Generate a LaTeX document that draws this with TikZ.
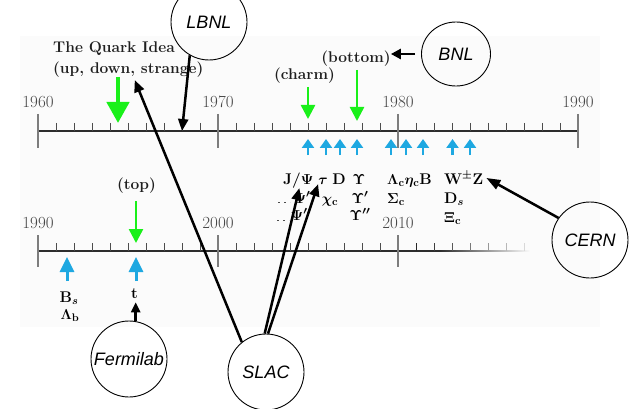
\documentclass[tikz,border=0pt]{standalone}
\usepackage{fontspec}
\usetikzlibrary{arrows.meta,shapes.geometric}
\newfontfamily\labsans{Liberation Sans}
\definecolor{quarkgreen}{RGB}{25,240,25}
\definecolor{findblue}{RGB}{30,168,225}
\definecolor{panelgray}{RGB}{251,251,251}
\definecolor{majorgray}{RGB}{125,125,125}
\definecolor{yeargray}{RGB}{70,70,70}
\definecolor{axisdark}{RGB}{45,45,45}

\begin{document}
\begin{tikzpicture}[x=1pt,y=-1pt,
  lab/.style={draw, circle, line width=0.9pt, inner sep=0pt, minimum size=76pt,
    font=\labsans\itshape\fontsize{18}{20}\selectfont},
  year/.style={anchor=base, text=yeargray, inner sep=0pt, font=\fontsize{17}{19}\selectfont},
  part/.style={anchor=base, inner sep=0pt, text=black,
    font=\fontsize{15.5}{17}\selectfont\bfseries\boldmath},
  flavour/.style={anchor=base, inner sep=0pt, text=black!88,
    font=\fontsize{15.5}{17}\selectfont\bfseries},
  axisline/.style={axisdark, line width=1.2pt},
  minortick/.style={black!70, line width=0.9pt},
  majortick/.style={majorgray, line width=2pt},
  greenbig/.style={quarkgreen, line width=4.5pt, -{Triangle[width=22pt,length=21pt]}},
  greenarr/.style={quarkgreen, line width=2.5pt, -{Triangle[width=14pt,length=14pt]}},
  bluesmall/.style={findblue, line width=2.5pt, -{Triangle[width=12pt,length=9pt]}},
  bluebig/.style={findblue, line width=3pt, -{Triangle[width=14pt,length=15pt]}},
  pointer/.style={black, line width=2.5pt, -{Triangle[width=10pt,length=12pt]}},
  leader/.style={black!70, line width=0.8pt, dash pattern=on 2pt off 4pt}
]
\useasboundingbox (0,0) rectangle (629,409);
\fill[panelgray] (20,36) rectangle (600,327);

% ---- upper time line, 1960 to 1990 ----
\draw[axisline] (38,131) -- (578,131);
\foreach \d in {0,180,360}
  \foreach \k in {1,...,9}
    \draw[minortick] ({38+\d+18*\k},123) -- ({38+\d+18*\k},131);
\foreach \x in {38,218,398,578}
  \draw[majortick] (\x,114) -- (\x,148);
\node[year] (y1960) at (38,108) {1960};
\node[year] (y1970) at (218,108) {1970};
\node[year] (y1980) at (398,108) {1980};
\node[year] (y1990a) at (578,108) {1990};

% ---- lower time line, 1990 onwards, fading out ----
\draw[axisline] (38,251) -- (440,251);
\shade[left color=axisdark, right color=panelgray] (440,250.4) rectangle (530,251.6);
\foreach \d in {0,180}
  \foreach \k in {1,...,9}
    \draw[minortick] ({38+\d+18*\k},243) -- ({38+\d+18*\k},251);
\foreach \k/\o in {1/85,2/75,3/65,4/52,5/40,6/27,7/14}
  \draw[minortick, draw=black!\o!panelgray] ({398+18*\k},243) -- ({398+18*\k},251);
\foreach \x in {38,218,398}
  \draw[majortick] (\x,235) -- (\x,267);
\node[year] (y1990b) at (38,228) {1990};
\node[year] (y2000) at (218,228) {2000};
\node[year] (y2010) at (398,228) {2010};

% ---- points on the time lines ----
\foreach \n/\x in {q/118, c/308, b/357, a1/326, a2/340, a3/391, a4/406, a5/423, a6/452.5, a7/470, lb/182}
  \coordinate (up\n) at (\x,131);
\foreach \n/\x in {top/136, bs/67}
  \coordinate (lo\n) at (\x,251);

% ---- quark discoveries ----
\node[flavour, anchor=north west, align=left, font=\fontsize{15.5}{21}\selectfont\bfseries]
  (quarkidea) at (53,41) {The Quark Idea\\(up, down, strange)};
\node[flavour] (charm) at (304.5,80) {(charm)};
\node[flavour] (bottom) at (356,63) {(bottom)};
\node[flavour] (top) at (136.5,189) {(top)};

\draw[greenbig] ([yshift=54pt]upq) -- ([yshift=8pt]upq);
\draw[greenarr] ([yshift=44pt]upc) -- ([yshift=12pt]upc);
\draw[greenarr] ([yshift=61pt]upb) -- ([yshift=10pt]upb);
\draw[greenarr] ([yshift=50pt]lotop) -- ([yshift=8pt]lotop);

% ---- particle discoveries ----
\foreach \c in {upc,upa1,upa2,upb,upa3,upa4,upa5,upa6,upa7}
  \draw[bluesmall] ([yshift=-24pt]\c) -- ([yshift=-8pt]\c);
\foreach \c in {lotop,lobs}
  \draw[bluebig] ([yshift=-30pt]\c) -- ([yshift=-6pt]\c);

\node[part, anchor=base west] (jpsi) at (283,184) {J/$\Psi$};
\node[part] (tau) at (323,184) {$\tau$};
\node[part] (dmes) at (339,184) {D};
\node[part] (ups) at (359,184) {$\Upsilon$};
\node[part, anchor=base west] (lambdac) at (387,184) {$\Lambda_{\mathbf{c}}\eta_{\mathbf{c}}$B};
\node[part, anchor=base west] (wz) at (444,184) {W$^{\pm}$Z};

\node[part] (psip) at (302,203) {$\Psi'$};
\node[part] (chic) at (330,203) {$\chi_{\mathbf{c}}$};
\node[part] (upsp) at (360,203) {$\Upsilon'$};
\node[part, anchor=base west] (sigmac) at (387,203) {$\Sigma_{\mathbf{c}}$};
\node[part, anchor=base west] (ds) at (444,203) {D$_{s}$};

\node[part] (psipp) at (301,220) {$\Psi''$};
\node[part] (upspp) at (360,220) {$\Upsilon''$};
\node[part, anchor=base west] (xic) at (444,222) {$\Xi_{\mathbf{c}}$};

\draw[leader] (278,202) -- (290,202);
\draw[leader] (277,220) -- (289,220);

\node[part] (bs) at (69,302) {B$_{s}$};
\node[part] (lambdab) at (70,319) {$\Lambda_{\mathbf{b}}$};
\node[part] (tq) at (134.5,298) {t};

% ---- laboratories ----
\node[lab] (lbnl) at (209,22) {LBNL};
\node[lab, ellipse, minimum width=69pt, minimum height=64pt] (bnl) at (456,54) {BNL};
\node[lab] (cern) at (590,240) {CERN};
\node[lab] (fermi) at (129,359) {Fermilab};
\node[lab] (slac) at (266,372) {SLAC};

% ---- who found what ----
\draw[pointer] (lbnl.240) -- (uplb);
\draw[pointer, -{Triangle[width=10pt,length=10pt]}, shorten <=6pt]
  (bnl.west) -- (bnl.west -| bottom.east);
\draw[pointer] (slac.129) -- ([xshift=6.5pt,yshift=-3pt]quarkidea.south);
\draw[pointer] (slac.92) -- ([xshift=1pt]jpsi.south);
\draw[pointer] (slac.87) -- (tau.south west);
\draw[pointer, -{Triangle[width=10pt,length=14pt]}] (cern.145) -- ([xshift=3pt]wz.east);
\draw[pointer, -{Triangle[width=9pt,length=10pt]}, shorten >=4pt]
  (fermi.80) -- (fermi.80 |- tq.south);
\end{tikzpicture}
\end{document}
